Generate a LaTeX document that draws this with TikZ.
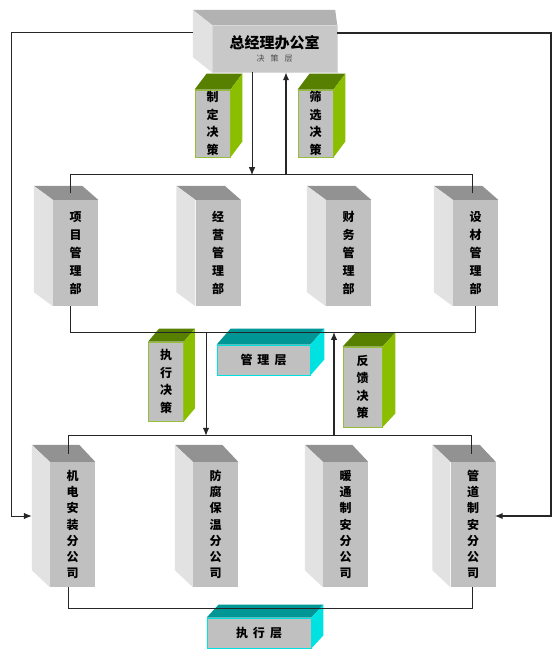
\documentclass[tikz,border=0pt]{standalone}
\usepackage{fontspec}
\newfontfamily\cjk{Noto Sans CJK SC}
\usetikzlibrary{arrows.meta}
\usetikzlibrary{calc}

\definecolor{frontgray}{RGB}{192,192,192}
\definecolor{sidegray}{RGB}{226,226,226}
\definecolor{topgray}{RGB}{146,146,146}
\definecolor{headfront}{RGB}{200,200,200}
\definecolor{headtop}{RGB}{178,178,178}
\definecolor{leaftop}{RGB}{88,128,0}
\definecolor{leafside}{RGB}{140,190,0}
\definecolor{leafline}{RGB}{150,190,60}
\definecolor{tealtop}{RGB}{0,150,150}
\definecolor{tealside}{RGB}{0,225,225}

\newcommand{\cubeleft}[4]{%
	\fill[topgray] (#1.north west) -- ++(#2,#4) -- ([shift={(#3,#4)}]#1.north east) -- (#1.north east) -- cycle;
	\fill[sidegray] (#1.north west) -- ++(#2,#4) -- ([shift={(#2,#4)}]#1.south west) -- (#1.south west) -- cycle;
}
\newcommand{\cuberight}[5]{%
	\fill[#4] (#1.north west) -- ++(#2,#3) -- ([shift={(#2,#3)}]#1.north east) -- (#1.north east) -- cycle;
	\fill[#5] (#1.north east) -- ++(#2,#3) -- ([shift={(#2,#3)}]#1.south east) -- (#1.south east) -- cycle;
}

\begin{document}
\begin{tikzpicture}[x=1pt,y=-1pt,
		dept/.style={fill=frontgray, minimum width=45, minimum height=106, inner sep=0pt, align=center, font=\cjk\bfseries\fontsize{12}{18}\selectfont},
		comp/.style={dept, minimum height=125, font=\cjk\bfseries\fontsize{12}{16.2}\selectfont},
		deci/.style={fill=frontgray, draw=leafline, line width=0.8pt, minimum width=35, minimum height=67, inner sep=0pt, align=center, font=\cjk\bfseries\fontsize{12}{17.5}\selectfont},
		layer/.style={fill=frontgray, draw=tealside, line width=0.8pt, minimum width=93, minimum height=30, inner sep=0pt, font=\cjk\bfseries\fontsize{12}{14}\selectfont},
		conn/.style={line width=1pt, draw=black!85},
		thk/.style={line width=1.8pt, draw=black!85},
		tip/.style={-{Latex[length=8pt,width=6.5pt]}}]
	\useasboundingbox (0,0) rectangle (559,655);
	
	\node[fill=headfront, draw=white!85!black, minimum width=125, minimum height=47, inner sep=0pt, align=center] (zj) at (274.5,48.5) {{\cjk\bfseries\fontsize{15}{17}\selectfont 总经理办公室}\\[1pt]{\cjk\fontsize{8}{9}\selectfont\color{black!70} 决\hspace{6pt}策\hspace{6pt}层}};
	\fill[headtop] (zj.north west) -- ++(-19,-15) -- ([shift={(-2,-15)}]zj.north east) -- (zj.north east) -- cycle;
	\fill[sidegray] (zj.north west) -- ++(-19,-15) -- ([shift={(-19,-15)}]zj.south west) -- (zj.south west) -- cycle;
	
	\node[deci] (zd) at (212.5,123.5) {制\\定\\决\\策};
	\node[deci] (sx) at (315.5,123.5) {筛\\选\\决\\策};
	\cuberight{zd}{12}{-16}{leaftop}{leafside}
	\cuberight{sx}{12}{-16}{leaftop}{leafside}
	
	\node[dept] (xm) at (75.5,253) {项\\目\\管\\理\\部};
	\node[dept] (jy) at (218,253) {经\\营\\管\\理\\部};
	\node[dept] (cw) at (348.5,253) {财\\务\\管\\理\\部};
	\node[dept] (sc) at (475.5,253) {设\\材\\管\\理\\部};
	\cubeleft{xm}{-19}{-16}{-14}
	\cubeleft{jy}{-19}{-16}{-14}
	\cubeleft{cw}{-19}{-16}{-14}
	\cubeleft{sc}{-19}{-16}{-14}
	
	\node[deci, minimum height=79] (zx) at (166,381.5) {执\\行\\决\\策};
	\node[deci, minimum width=39, minimum height=80] (fk) at (362.5,387) {反\\馈\\决\\策};
	\cuberight{zx}{11}{-13}{leaftop}{leafside}
	\cuberight{fk}{13}{-14}{leaftop}{leafside}
	
	\node[comp] (jd) at (72.5,524.5) {机\\电\\安\\装\\分\\公\\司};
	\node[comp] (ff) at (215.5,524.5) {防\\腐\\保\\温\\分\\公\\司};
	\node[comp] (nt) at (345.5,524.5) {暖\\通\\制\\安\\分\\公\\司};
	\node[comp] (gd) at (473,524.5) {管\\道\\制\\安\\分\\公\\司};
	\cubeleft{jd}{-18}{-16}{-17}
	\cubeleft{ff}{-18}{-16}{-17}
	\cubeleft{nt}{-18}{-16}{-17}
	\cubeleft{gd}{-18}{-16}{-17}
	
	\node[layer] (glc) at (263.5,360) {管\hspace{5pt}理\hspace{5pt}层};
	\node[layer, minimum width=104] (zxc) at (259,633) {执\hspace{5pt}行\hspace{5pt}层};
	\cuberight{glc}{14}{-16}{tealtop}{tealside}
	\cuberight{zxc}{12}{-13}{tealtop}{tealside}
	
	\draw[conn,tip] ([xshift=-22.5pt]zj.south) -- ++(0,103);
	\draw[thk,tip] ([xshift=11.5pt]zj.south) ++(0,103) -- ([xshift=11.5pt]zj.south);
	
	\draw[conn] ([shift={(-5.5,-7)}]xm.north) -- ([shift={(-5.5,-25)}]xm.north) -| ([shift={(-3,-7)}]sc.north);
	\draw[conn] ([xshift=-5.5pt]xm.south) -- ++(0,26) -| (sc.south);
	
	\draw[conn,tip] ([shift={(-9.5,-130)}]ff.north) -- ([shift={(-9.5,-26)}]ff.north);
	\draw[thk,tip] ([shift={(-11.5,-26)}]nt.north) -- ([shift={(-11.5,-130)}]nt.north);
	
	\draw[conn] ([shift={(-4.5,-8)}]jd.north) -- ([shift={(-4.5,-26)}]jd.north) -| ([shift={(-2,-8)}]gd.north);
	\draw[conn] ([xshift=-4.5pt]jd.south) -- ++(0,21) -| ([xshift=-1pt]gd.south);
	
	\draw[conn,tip] ([shift={(-19,-15.5)}]zj.west) -- ++(-181,0) |- ([shift={(-18,-8.5)}]jd.west);
	\draw[thk,tip] ([shift={(0,-15.5)}]zj.east) -- ++(214,0) |- ([shift={(-1,-8.5)}]gd.east);
\end{tikzpicture}
\end{document}
